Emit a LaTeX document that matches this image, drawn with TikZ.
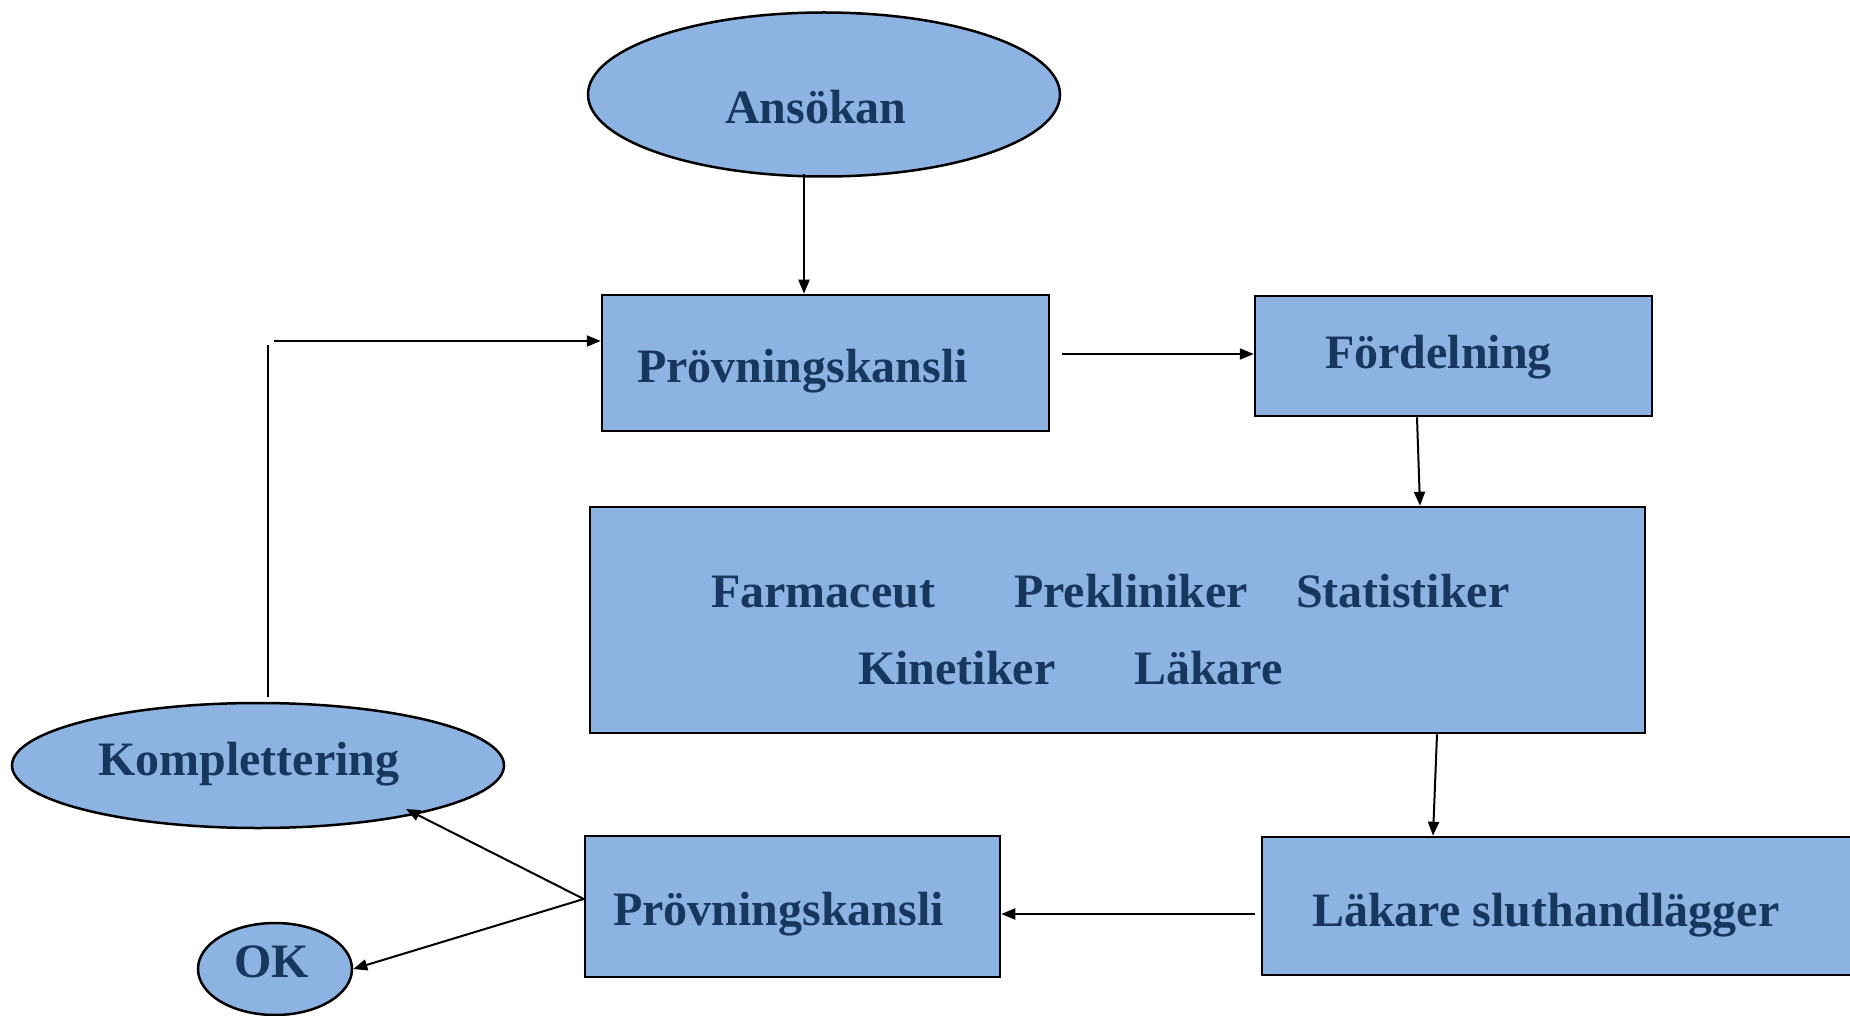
\documentclass[tikz,border=0pt]{standalone}
\usepackage{fontspec}
\setmainfont{Liberation Serif}
\usetikzlibrary{shapes.geometric,arrows.meta}
\definecolor{boxfill}{HTML}{8DB3E2}
\definecolor{txt}{HTML}{17375E}
\tikzset{
  shapebox/.style={draw=black, line width=2.5pt, fill=boxfill, rectangle, inner sep=0pt},
  shapeell/.style={draw=black, line width=2.5pt, fill=boxfill, ellipse, inner sep=0pt},
  lbl/.style={anchor=base west, inner sep=0pt, text=txt, font=\fontsize{48}{56}\selectfont\bfseries},
  conn/.style={draw=black, line width=2pt},
  arr/.style={conn, -{Triangle[length=14pt,width=11pt]}}
}
\begin{document}
\begin{tikzpicture}[x=1pt,y=-1pt]
\useasboundingbox (0,0) rectangle (1850,1016);
\begin{scope}
\clip (0,0) rectangle (1850,1016);
% shapes
\node[shapeell, minimum width=472pt, minimum height=164pt] (ans) at (824,94.5) {};
\node[shapebox, minimum width=447pt, minimum height=136pt] (pk1) at (825.5,363) {};
\node[shapebox, minimum width=397pt, minimum height=120pt] (ford) at (1453.5,356) {};
\node[shapebox, minimum width=1055pt, minimum height=226pt] (big) at (1117.5,620) {};
\node[shapebox, minimum width=618pt, minimum height=138pt] (lak) at (1571,906) {};
\node[shapebox, minimum width=415pt, minimum height=141pt] (pk2) at (792.5,906.5) {};
\node[shapeell, minimum width=492pt, minimum height=125pt] (komp) at (258,765.5) {};
\node[shapeell, minimum width=154pt, minimum height=92pt] (ok) at (275,969) {};
% texts
\node[lbl] (tans) at (725,124) {Ansökan};
\node[lbl] (tpk1) at (637,382) {Prövningskansli};
\node[lbl] (tford) at (1325,368) {Fördelning};
\node[lbl] (tfarm) at (711,607) {Farmaceut};
\node[lbl] (tprek) at (1014,607) {Prekliniker};
\node[lbl] (tstat) at (1296,607) {Statistiker};
\node[lbl] (tkin) at (858,684) {Kinetiker};
\node[lbl] (tlak) at (1134,684) {Läkare};
\node[lbl] (tkomp) at (98,775) {Komplettering};
\node[lbl] (tok) at (234,977) {OK};
\node[lbl] (tpk2) at (613,925) {Prövningskansli};
\node[lbl] (tlaks) at (1312,926) {Läkare sluthandlägger};
% connectors (shift={(a,b)} uses image coords; yshift in canvas: positive = up)
\draw[arr] ([shift={(-20,-4)}]ans.south) -- ([xshift=-21.5]pk1.north);
\draw[arr] ([shift={(12,-9)}]pk1.east) -- ([shift={(0,-2)}]ford.west);
\draw[arr] ([xshift=-36.5]ford.south) -- ([xshift=302.5]big.north);
\draw[arr] ([xshift=319.5]big.south) -- ([xshift=-138]lak.north);
\draw[arr] ([shift={(-6,8)}]lak.west) -- ([shift={(0,7.5)}]pk2.east);
\draw[arr] ([shift={(0,-7.5)}]pk2.west) -- ([shift={(148,43.5)}]komp.center);
\draw[arr] ([shift={(0,-7.5)}]pk2.west) -- (ok.east);
\coordinate (c1) at (268,345);
\coordinate (c2) at (274,341);
\draw[conn] ([shift={(10,-5)}]komp.north) -- (c1);
\draw[arr] (c2) -- ([shift={(0,-22)}]pk1.west);
\end{scope}
\end{tikzpicture}
\end{document}
